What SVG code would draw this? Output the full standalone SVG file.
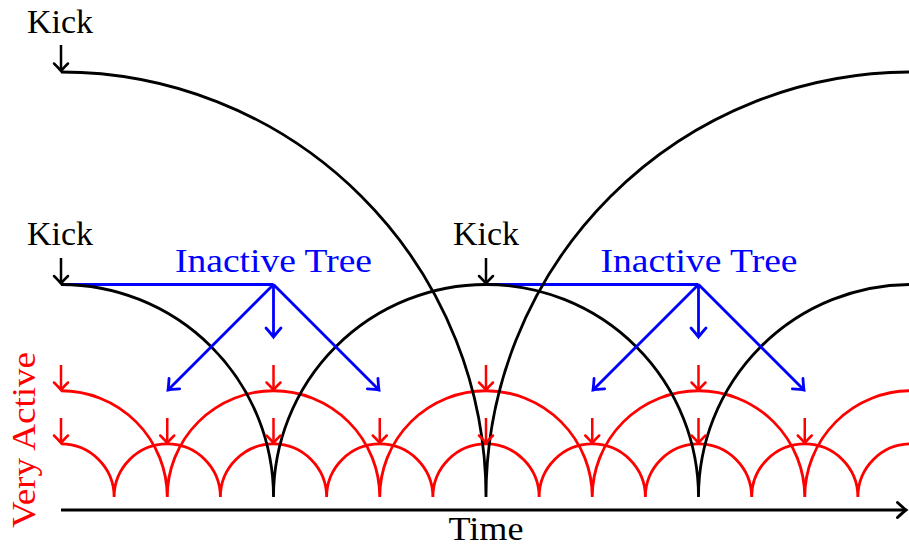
<svg xmlns="http://www.w3.org/2000/svg" width="909" height="547" viewBox="0 0 909 547">
<style>
  text { font-family: "Liberation Serif", "DejaVu Serif", serif; font-size: 33px; }
  .k { fill: #000; }
  .b { fill: #0000ff; }
  .r { fill: #ff0000; }
  .arcK { fill: none; stroke: #000; stroke-width: 2.8; }
  .arcR { fill: none; stroke: #ff0000; stroke-width: 2.8; }
  .arK { fill: none; stroke: #000; stroke-width: 2.5; marker-end: url(#mk); }
  .arR { fill: none; stroke: #ff0000; stroke-width: 2.5; marker-end: url(#mr); }
  .arB { fill: none; stroke: #0000ff; stroke-width: 2.8; marker-end: url(#mb); }
  .lnB { fill: none; stroke: #0000ff; stroke-width: 2.8; }
  .axis { fill: none; stroke: #000; stroke-width: 3.2; marker-end: url(#mk2); }
</style>
<defs>
  <marker id="mk" markerUnits="userSpaceOnUse" viewBox="-10 -8 12 16" refX="0" refY="0" markerWidth="12" markerHeight="16" orient="auto" overflow="visible">
    <path d="M-7.5,-7 Q-2,-1.5 0,0 Q-2,1.5 -7.5,7" fill="none" stroke="#000" stroke-width="2.5" stroke-linecap="round"/>
  </marker>
  <marker id="mk2" markerUnits="userSpaceOnUse" viewBox="-10 -8 12 16" refX="0" refY="0" markerWidth="12" markerHeight="16" orient="auto" overflow="visible">
    <path d="M-8.5,-7.5 Q-2,-1.5 0,0 Q-2,1.5 -8.5,7.5" fill="none" stroke="#000" stroke-width="3" stroke-linecap="round"/>
  </marker>
  <marker id="mr" markerUnits="userSpaceOnUse" viewBox="-10 -8 12 16" refX="0" refY="0" markerWidth="12" markerHeight="16" orient="auto" overflow="visible">
    <path d="M-7.5,-7 Q-2,-1.5 0,0 Q-2,1.5 -7.5,7" fill="none" stroke="#ff0000" stroke-width="2.5" stroke-linecap="round"/>
  </marker>
  <marker id="mb" markerUnits="userSpaceOnUse" viewBox="-10 -8 12 16" refX="0" refY="0" markerWidth="12" markerHeight="16" orient="auto" overflow="visible">
    <path d="M-9,-7.5 Q-2.5,-1.8 0,0 Q-2.5,1.8 -9,7.5" fill="none" stroke="#0000ff" stroke-width="2.8" stroke-linecap="round"/>
  </marker>
</defs>

<g id="connectors">
  <path class="axis" d="M61,510 L906,510"/>
  <path class="lnB" d="M61,284.5 L273.5,284.5"/>
  <path class="lnB" d="M486,284.5 L698.5,284.5"/>
  <path class="arcR" d="M61,443.9 A53.125,53.125 0 0 1 114.125,497 A53.125,53.125 0 0 1 167.25,443.9 A53.125,53.125 0 0 1 220.375,497 A53.125,53.125 0 0 1 273.5,443.9 A53.125,53.125 0 0 1 326.625,497 A53.125,53.125 0 0 1 379.75,443.9 A53.125,53.125 0 0 1 432.875,497 A53.125,53.125 0 0 1 486,443.9 A53.125,53.125 0 0 1 539.125,497 A53.125,53.125 0 0 1 592.25,443.9 A53.125,53.125 0 0 1 645.375,497 A53.125,53.125 0 0 1 698.5,443.9 A53.125,53.125 0 0 1 751.625,497 A53.125,53.125 0 0 1 804.75,443.9 A53.125,53.125 0 0 1 857.875,497 A53.125,53.125 0 0 1 911,443.9"/>
  <path class="arcR" d="M61,390.75 A106.25,106.25 0 0 1 167.25,497 A106.25,106.25 0 0 1 273.5,390.75 A106.25,106.25 0 0 1 379.75,497 A106.25,106.25 0 0 1 486,390.75 A106.25,106.25 0 0 1 592.25,497 A106.25,106.25 0 0 1 698.5,390.75 A106.25,106.25 0 0 1 804.75,497 A106.25,106.25 0 0 1 911,390.75"/>
  <path class="arcK" d="M61,284.5 A212.5,212.5 0 0 1 273.5,497 A212.5,212.5 0 0 1 486,284.5 A212.5,212.5 0 0 1 698.5,497 A212.5,212.5 0 0 1 911,284.5"/>
  <path class="arcK" d="M61,72 A425,425 0 0 1 486,497 A425,425 0 0 1 911,72"/>
  <path class="arK" d="M61,45 L61,71"/>
  <path class="arK" d="M61,258 L61,283.5"/>
  <path class="arK" d="M486,258 L486,283.5"/>
  <path class="arR" d="M61,365 L61,390"/>
  <path class="arR" d="M273.5,365 L273.5,390"/>
  <path class="arR" d="M486,365 L486,390"/>
  <path class="arR" d="M698.5,365 L698.5,390"/>
  <path class="arR" d="M61,418 L61,443"/>
  <path class="arR" d="M167.25,418 L167.25,443"/>
  <path class="arR" d="M273.5,418 L273.5,443"/>
  <path class="arR" d="M379.75,418 L379.75,443"/>
  <path class="arR" d="M486,418 L486,443"/>
  <path class="arR" d="M592.25,418 L592.25,443"/>
  <path class="arR" d="M698.5,418 L698.5,443"/>
  <path class="arR" d="M804.75,418 L804.75,443"/>
  <path class="arB" d="M273.5,284.5 L273.5,337"/>
  <path class="arB" d="M273.5,284.5 L168,390"/>
  <path class="arB" d="M273.5,284.5 L379,390"/>
  <path class="arB" d="M698.5,284.5 L698.5,337"/>
  <path class="arB" d="M698.5,284.5 L593,390"/>
  <path class="arB" d="M698.5,284.5 L804,390"/>
</g>

<g id="kick-top"><text class="k" x="60" y="33" text-anchor="middle" textLength="66" lengthAdjust="spacingAndGlyphs">Kick</text></g>
<g id="kick-mid-left"><text class="k" x="60" y="245" text-anchor="middle" textLength="66" lengthAdjust="spacingAndGlyphs">Kick</text></g>
<g id="kick-mid-center"><text class="k" x="486" y="245" text-anchor="middle" textLength="66" lengthAdjust="spacingAndGlyphs">Kick</text></g>
<g id="inactive-tree-1"><text class="b" x="273.5" y="272" text-anchor="middle" textLength="197" lengthAdjust="spacingAndGlyphs">Inactive Tree</text></g>
<g id="inactive-tree-2"><text class="b" x="699" y="272" text-anchor="middle" textLength="197" lengthAdjust="spacingAndGlyphs">Inactive Tree</text></g>
<g id="time"><text class="k" x="486" y="540" text-anchor="middle" font-size="32" textLength="75" lengthAdjust="spacingAndGlyphs">Time</text></g>
<g id="very-active"><text class="r" transform="translate(35,440) rotate(-90)" x="0" y="0" text-anchor="middle" textLength="176" lengthAdjust="spacingAndGlyphs">Very Active</text></g>
</svg>
